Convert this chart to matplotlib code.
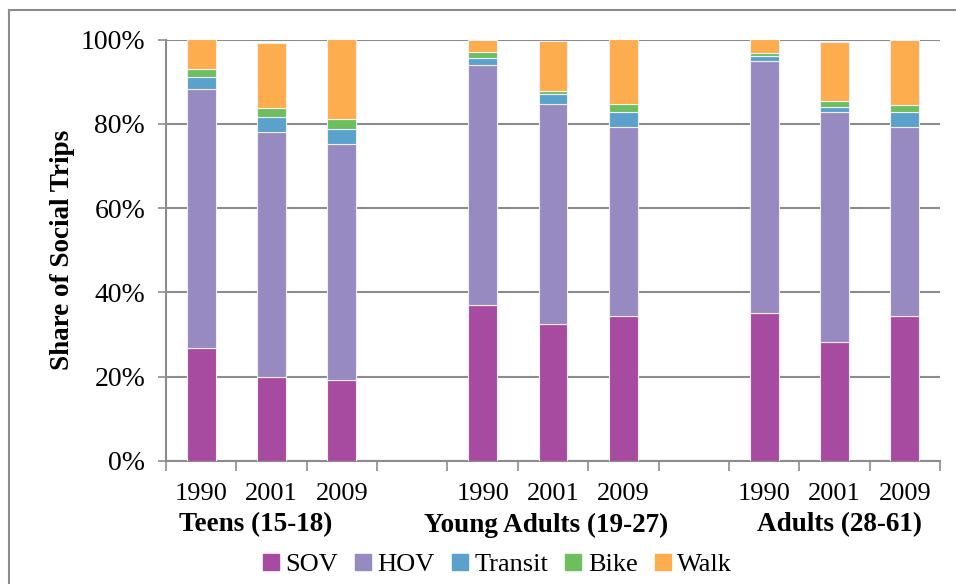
import matplotlib
matplotlib.use('Agg')
import matplotlib.pyplot as plt
from matplotlib.lines import Line2D
import matplotlib.transforms as mtransforms
import numpy as np

plt.rcParams['font.family'] = ['Liberation Serif', 'DejaVu Serif']

# mode shares (%) for each survey year, grouped by age band
years = ['1990', '2001', '2009']
groups = ['Teens (15-18)', 'Young Adults (19-27)', 'Adults (28-61)']
modes = ['SOV', 'HOV', 'Transit', 'Bike', 'Walk']

sov = [26.9, 20.0, 19.1, 37.0, 32.4, 34.5, 35.2, 28.3, 34.5]
hov = [61.4, 58.1, 56.2, 56.9, 52.2, 44.7, 59.7, 54.6, 44.7]
transit = [2.7, 3.4, 3.4, 1.8, 2.5, 3.5, 1.3, 1.2, 3.5]
bike = [2.1, 2.3, 2.4, 1.4, 0.6, 1.9, 0.7, 1.2, 1.8]
walk = [6.9, 15.3, 18.9, 2.9, 11.9, 15.4, 3.1, 14.0, 15.5]

colors = ['#A74BA1', '#978AC1', '#5AA2CB', '#6CBF5C', '#FDAC4E']

fig = plt.figure(figsize=(9.56, 5.84), dpi=100)
ax = fig.add_axes([166/956, 1-461/584, (940-166)/956, (461-39.5)/584])

# three bars per group, one empty slot between groups
x = np.array([g*4 + i for g in range(3) for i in range(3)])
bottom = np.zeros(len(x))
for vals, col, lab in zip([sov, hov, transit, bike, walk], colors, modes):
    ax.bar(x, vals, width=0.41, bottom=bottom, color=col, label=lab,
           edgecolor='#f2eef8', linewidth=0.8, zorder=3)
    bottom += np.array(vals)

gray = '#8c8c8c'
ax.set_xlim(-0.5, 10.5)
ax.set_ylim(0, 100)
ax.set_yticks(range(0, 101, 20))
ax.set_yticklabels([f'{v}%' for v in range(0, 101, 20)])
ax.yaxis.grid(True, color=gray, linewidth=1.5, zorder=0)
ax.set_axisbelow(True)

ax.set_xticks(x)
ax.set_xticklabels(years * 3)
ax.set_xticks(np.arange(-0.5, 11, 1), minor=True)
ax.tick_params(axis='x', which='major', length=0, pad=16, labelsize=19)
ax.tick_params(axis='x', which='minor', length=7, width=1.2, color=gray)
ax.tick_params(axis='y', length=6, width=1.2, color=gray, pad=9, labelsize=20)

for s in ['top', 'right']:
    ax.spines[s].set_visible(False)
for s in ['left', 'bottom']:
    ax.spines[s].set_color(gray)
    ax.spines[s].set_linewidth(1.5)

ax.set_ylabel('Share of Social Trips', fontsize=19.5, fontweight='bold')
ax.yaxis.set_label_coords(-0.118, 0.5)

# age band labels under the year labels
trans = mtransforms.blended_transform_factory(ax.transData, ax.transAxes)
group_x = [0.78, 4.9, 9.07]
for gx, name in zip(group_x, groups):
    ax.text(gx, -0.152, name, transform=trans, ha='center', va='center',
            fontsize=19.5, fontweight='bold')

handles = [Line2D([], [], marker='s', linestyle='none', markersize=11,
                  markerfacecolor=c, markeredgecolor=c) for c in colors]
fig.legend(handles, modes, loc='center', bbox_to_anchor=(496/956, 1-564/584),
           ncol=5, frameon=False, fontsize=19, handletextpad=0.15,
           columnspacing=0.55, handlelength=0.8)

# chart-area border
fig.add_artist(Line2D([9/956, 1], [1-10/584, 1-10/584], color=gray, linewidth=1.5,
                      transform=fig.transFigure))
fig.add_artist(Line2D([9/956, 9/956], [0, 1-10/584], color=gray, linewidth=1.5,
                      transform=fig.transFigure))

fig.savefig('out.png', dpi=100)
